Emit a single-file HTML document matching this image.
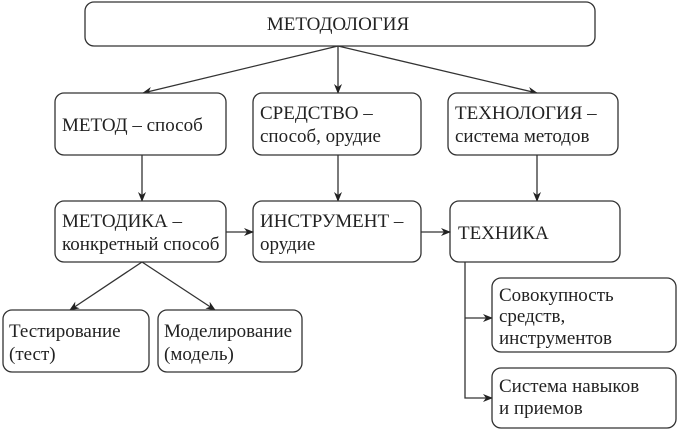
<!DOCTYPE html>
<html><head><meta charset="utf-8"><style>
body{margin:0;background:#fff;}
svg text{font-family:"Liberation Serif","Noto Serif CJK SC",serif;font-size:19px;fill:#222;}
rect{fill:#fff;stroke:#333;stroke-width:1.3;}
line,polyline{stroke:#333;stroke-width:1.3;fill:none;}
</style></head><body>
<svg width="677" height="430" viewBox="0 0 677 430">
<defs><marker id="a" markerWidth="10" markerHeight="8" refX="9" refY="4" orient="auto" markerUnits="userSpaceOnUse"><path d="M0,0 L10,4 L0,8 L3,4z" fill="#222"/></marker></defs>
<rect x="85" y="2" width="510" height="44" rx="9"/>
<text x="338" y="30" text-anchor="middle">МЕТОДОЛОГИЯ</text>
<line x1="338" y1="46" x2="143" y2="93" marker-end="url(#a)"/>
<line x1="338" y1="46" x2="338" y2="93" marker-end="url(#a)"/>
<line x1="338" y1="46" x2="537" y2="93" marker-end="url(#a)"/>
<rect x="55" y="93" width="171" height="62" rx="9"/>
<text x="62" y="131">МЕТОД – способ</text>
<rect x="253" y="93" width="168" height="62" rx="9"/>
<text x="260" y="119">СРЕДСТВО –</text><text x="260" y="142">способ, орудие</text>
<rect x="448" y="93" width="170" height="62" rx="9"/>
<text x="455" y="119">ТЕХНОЛОГИЯ –</text><text x="455" y="142">система методов</text>
<line x1="142" y1="155" x2="142" y2="201" marker-end="url(#a)"/>
<line x1="338" y1="155" x2="338" y2="201" marker-end="url(#a)"/>
<line x1="537" y1="155" x2="537" y2="201" marker-end="url(#a)"/>
<rect x="55" y="201" width="171" height="61" rx="9"/>
<text x="62" y="227">МЕТОДИКА –</text><text x="62" y="250">конкретный способ</text>
<rect x="253" y="201" width="168" height="61" rx="9"/>
<text x="260" y="227">ИНСТРУМЕНТ –</text><text x="260" y="250">орудие</text>
<rect x="450" y="201" width="170" height="61" rx="9"/>
<text x="458" y="239">ТЕХНИКА</text>
<line x1="226" y1="232" x2="253" y2="232" marker-end="url(#a)"/>
<line x1="421" y1="232" x2="450" y2="232" marker-end="url(#a)"/>
<line x1="142" y1="262" x2="70" y2="310" marker-end="url(#a)"/>
<line x1="142" y1="262" x2="215" y2="310" marker-end="url(#a)"/>
<rect x="3" y="310" width="146" height="62" rx="9"/>
<text x="9" y="337">Тестирование</text><text x="9" y="360">(тест)</text>
<rect x="158" y="310" width="144" height="62" rx="9"/>
<text x="164" y="337">Моделирование</text><text x="164" y="360">(модель)</text>
<polyline points="465,262 465,398 492,398" marker-end="url(#a)"/>
<line x1="465" y1="318" x2="492" y2="318" marker-end="url(#a)"/>
<rect x="492" y="278" width="184" height="74" rx="9"/>
<text x="499" y="301">Совокупность</text><text x="499" y="322">средств,</text><text x="499" y="344">инструментов</text>
<rect x="492" y="368" width="184" height="60" rx="9"/>
<text x="499" y="392">Система навыков</text><text x="499" y="414">и приемов</text>
</svg>
</body></html>
